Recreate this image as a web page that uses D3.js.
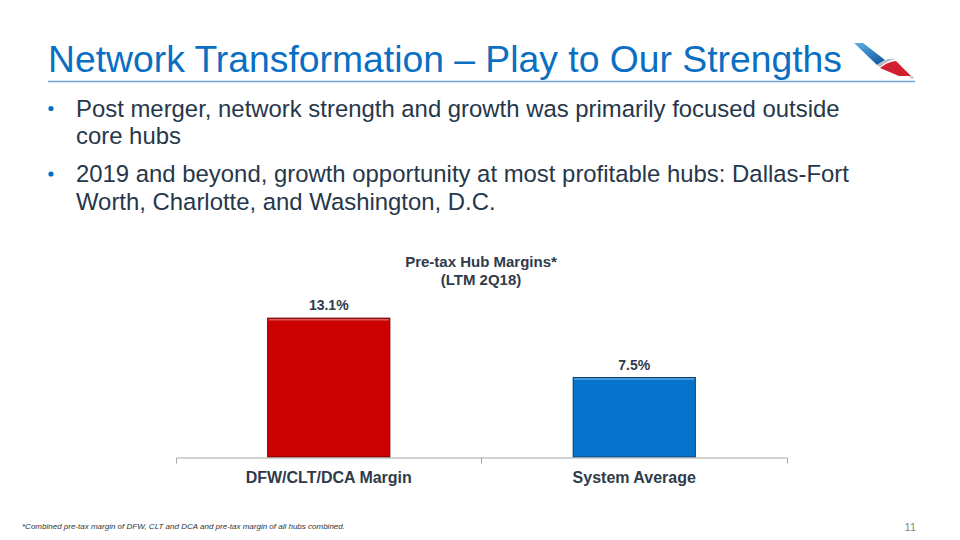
<!DOCTYPE html>
<html><head><meta charset="utf-8">
<script src="https://cdn.jsdelivr.net/npm/d3@7"></script>
<style>
html,body{margin:0;padding:0;background:#fff;}
svg{display:block;font-family:"Liberation Sans",Arial,sans-serif;}
</style></head>
<body>
<svg id="c" width="960" height="540"></svg>
<script>
const categories = ["DFW/CLT/DCA Margin", "System Average"];
const values = [13.1, 7.5];
const valueLabels = ["13.1%", "7.5%"];
const barColors = ["#cc0000", "#0674cc"];
const barEdges = ["#6e0000", "#0b3f6e"];
const titleText = "Network Transformation – Play to Our Strengths";
const bullets = [
  ["Post merger, network strength and growth was primarily focused outside", "core hubs"],
  ["2019 and beyond, growth opportunity at most profitable hubs: Dallas-Fort", "Worth, Charlotte, and Washington, D.C."]
];
const chartTitle = ["Pre-tax Hub Margins*", "(LTM 2Q18)"];
const footnote = "*Combined pre-tax margin of DFW, CLT and DCA and pre-tax margin of all hubs combined.";
const pageNum = "11";

const svg = d3.select("#c");

// Title
svg.append("text").attr("x", 48).attr("y", 72)
  .attr("font-size", 37.3).attr("fill", "#0a6fc2").text(titleText);
svg.append("line").attr("x1", 48).attr("x2", 915).attr("y1", 81.5).attr("y2", 81.5)
  .attr("stroke", "#6fa6d8").attr("stroke-width", 1.5);

// Logo
const logo = svg.append("g");
const gb = svg.append("defs").append("linearGradient").attr("id","gb")
  .attr("x1","0").attr("y1","0").attr("x2","1").attr("y2","1");
gb.append("stop").attr("offset","0").attr("stop-color","#5fb2e6");
gb.append("stop").attr("offset","1").attr("stop-color","#0a4f9c");
logo.append("path").attr("d","M854,43 L863,43 L885,60 L877,65 Z").attr("fill","url(#gb)");
logo.append("path").attr("d","M877,65 L885,60 Q890,58 896,59 Q886,61 880,67 Z").attr("fill","#b8bcc4");
logo.append("path").attr("d","M880,68 Q887,62 896,61 L911,76 L899,76 Z").attr("fill","#d21f2f");
logo.append("text").attr("x", 909).attr("y", 79).attr("font-size", 3).attr("fill", "#888").text("TM");

// Bullets
let by = [116.5, 144, 182, 209.5];
let li = 0;
bullets.forEach((b) => {
  svg.append("circle").attr("cx", 51).attr("cy", by[li] - 8).attr("r", 2.6).attr("fill", "#0a6fc2");
  b.forEach((line) => {
    svg.append("text").attr("x", 76).attr("y", by[li]).attr("font-size", 23.9)
      .attr("fill", "#27374a").text(line);
    li++;
  });
});

// Chart
const x = d3.scaleBand().domain(categories).range([176, 787]).padding(0);
const y = d3.scaleLinear().domain([0, 15]).range([457, 298]);
const bw = x.bandwidth() * 0.4;

svg.append("text").attr("x", 481).attr("y", 267).attr("text-anchor", "middle")
  .attr("font-size", 15).attr("font-weight", "bold").attr("fill", "#2f3b4a").text(chartTitle[0]);
svg.append("text").attr("x", 481).attr("y", 285).attr("text-anchor", "middle")
  .attr("font-size", 15).attr("font-weight", "bold").attr("fill", "#2f3b4a").text(chartTitle[1]);

const bars = svg.append("g");
categories.forEach((c, i) => {
  const cx = x(c) + x.bandwidth() / 2;
  bars.append("rect").attr("x", cx - bw / 2).attr("y", y(values[i]))
    .attr("width", bw).attr("height", y(0) - y(values[i]))
    .attr("fill", barColors[i]).attr("stroke", barEdges[i]).attr("stroke-width", 1);
  bars.append("line").attr("x1", cx - bw / 2 + 1).attr("x2", cx + bw / 2 - 1)
    .attr("y1", y(values[i]) + 1.5).attr("y2", y(values[i]) + 1.5)
    .attr("stroke", "#ffffff").attr("stroke-opacity", 0.35).attr("stroke-width", 1.5);
  svg.append("text").attr("x", cx).attr("y", y(values[i]) - 8).attr("text-anchor", "middle")
    .attr("font-size", 14).attr("font-weight", "bold").attr("fill", "#2f3b4a").text(valueLabels[i]);
});

// Axis
const axis = d3.axisBottom(x).tickSize(6).tickFormat("").tickSizeOuter(6);
const ag = svg.append("g").attr("transform", "translate(0,457.5)").call(axis);
ag.selectAll("path,line").attr("stroke", "#a6a6a6");
ag.selectAll(".tick").remove();
ag.append("line").attr("x1", x.step() + 176).attr("x2", x.step() + 176).attr("y1", 0).attr("y2", 6).attr("stroke", "#a6a6a6");
categories.forEach((c) => {
  svg.append("text").attr("x", x(c) + x.bandwidth() / 2).attr("y", 483).attr("text-anchor", "middle")
    .attr("font-size", 16).attr("font-weight", "bold").attr("fill", "#2f3b4a").text(c);
});

// Footnote
svg.append("text").attr("x", 22).attr("y", 529).attr("font-size", 8).attr("font-style", "italic")
  .attr("fill", "#333").text(footnote);
svg.append("text").attr("x", 916).attr("y", 531).attr("text-anchor", "end").attr("font-size", 11)
  .attr("fill", "#888").text(pageNum);
</script>
</body></html>
